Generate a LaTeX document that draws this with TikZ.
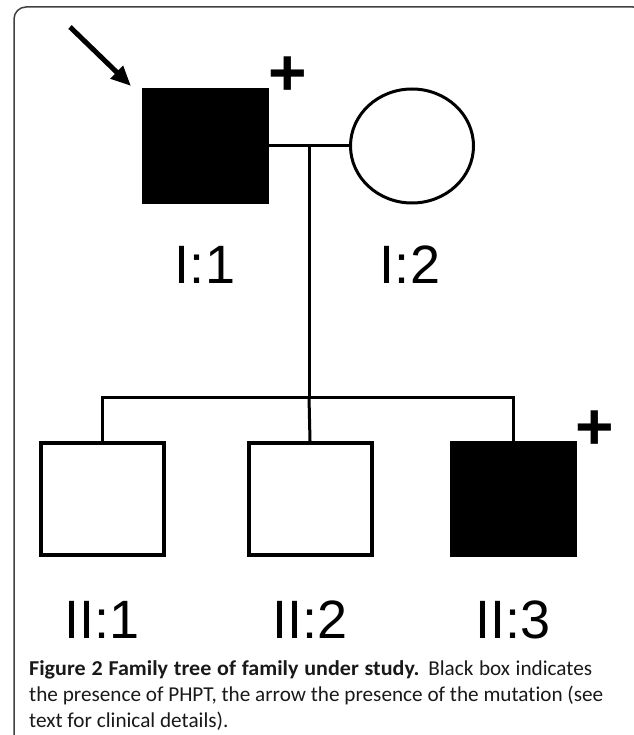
\documentclass[tikz,border=0pt]{standalone}
\usepackage{fontspec}
\newfontfamily\lblfont{Liberation Sans}
\newfontfamily\capfont{Carlito}[Ligatures=NoCommon, BoldFeatures={FakeStretch=1.04}]
\usetikzlibrary{arrows.meta,shapes.geometric,positioning,calc}
\tikzset{%
    pers/.style={rectangle, draw, line width=4pt, inner sep=0pt, minimum width=123pt, minimum height=112pt},
    aff/.style={pers, fill=black},
    fem/.style={ellipse, draw, line width=3pt, inner sep=0pt, minimum width=123pt, minimum height=114pt},
    lin/.style={line width=3pt},
    pra/.style={line width=5pt, -{Triangle[length=20pt, width=17pt]}},
    lbl/.style={font=\lblfont\fontsize{54}{60}\selectfont, inner sep=0pt, anchor=base},
    pls/.style={font=\lblfont\bfseries\fontsize{66}{70}\selectfont, inner sep=0pt},
    captxt/.style={font=\capfont\fontsize{21.2}{26}\selectfont, inner sep=0pt, anchor=base west, text=black!90}
}
\begin{document}
\begin{tikzpicture}[x=1pt, y=-1pt]
    \useasboundingbox (0,0) rectangle (633,735);
    \draw[line width=1.5pt, black!75, rounded corners=12pt] (14,747) -- (14,7) -- (645,7) -- (645,747);
    % generation I
    \node[aff] (I1) at (205.5,146) {};
    \node[fem] (I2) at (412,146) {};
    % generation II
    \node[pers] (II1) at (102.5,499) {};
    \node[pers] (II2) at (310,499) {};
    \node[aff] (II3) at (513.5,499) {};
    \coordinate (mate) at ($(I1.east)!0.5!(I2.west)$);
    \coordinate (sib) at (mate |- II2.north);
    \coordinate (sib) at ([yshift=44pt]sib);
    \draw [lin](I1.east) -- (I2.west);
    \draw [lin](mate) -- (sib);
    \draw [lin](II1.north) |- (sib) -| (II3.north);
    \draw [lin](sib) -- (II2.north);
    \coordinate (pbtail) at (70,27);
    \coordinate (pbtip) at (131,86);
    \draw [pra](pbtail) -- (pbtip);
    \node[pls] (plI1) at (288,76) {+};
    \node[pls] (plII3) at (595,430) {+};
    \node[lbl] (lI1) at (205,283) {I:1};
    \node[lbl] (lI2) at (410,283) {I:2};
    \node[lbl] (lII1) at (102,638) {II:1};
    \node[lbl] (lII2) at (310,638) {II:2};
    \node[lbl] (lII3) at (513,638) {II:3};
    \node[captxt] (cap1) at (29,675) {\makebox[563pt][s]{\textbf{Figure 2 Family tree of family under study.} Black box indicates}};
    \node[captxt] (cap2) at (29,701) {the presence of PHPT, the arrow the presence of the mutation (see};
    \node[captxt] (cap3) at (29,727) {text for clinical details).};
\end{tikzpicture}
\end{document}
